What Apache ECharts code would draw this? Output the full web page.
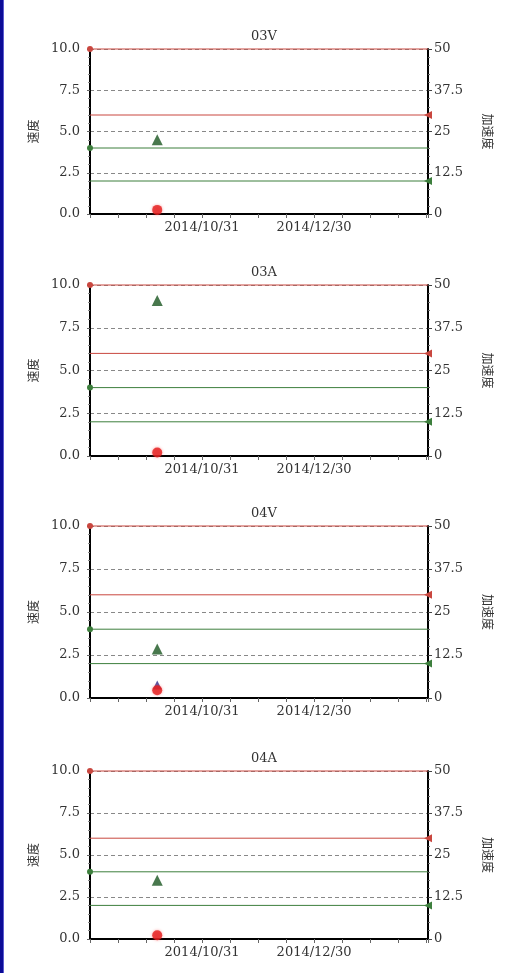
<!DOCTYPE html>
<html>
<head>
<meta charset="utf-8">
<script src="https://cdn.jsdelivr.net/npm/echarts@6/dist/echarts.min.js"></script>
<style>
html,body{margin:0;padding:0;background:#fff;}
#c{width:509px;height:973px;}
</style>
</head>
<body>
<div id="c"></div>
<script>
// ---- data ----
const panelTitles = ['03V', '03A', '04V', '04A'];
const axisStart = '2014-09-01';
const axisEnd = '2015-02-28';
const xTickDays = 15;
const xLabels = ['2014/10/31', '2014/12/30'];
const sampleDate = '2014-10-07';
const velocity = [0.25, 0.2, 0.45, 0.22];          // 速度 (left axis), red circle
const velocityB = [null, null, 0.75, null];         // second point (left axis), blue triangle
const acceleration = [22.5, 45.5, 14.25, 17.5];     // 加速度 (right axis), green triangle
const velAlarm = 10, velWarn = 4;                   // left-axis thresholds
const accAlarm = 30, accWarn = 10;                  // right-axis thresholds
const leftTicks = [0, 10, 2.5];   // min, max, interval
const rightTicks = [0, 50, 12.5]; // min, max, interval

// ---- helpers ----
const DAY = 86400000;
const t0 = Date.parse(axisStart + 'T00:00:00Z');
const toDay = d => (Date.parse(d + 'T00:00:00Z') - t0) / DAY;
const xMax = toDay(axisEnd) + 1;
const pad = n => (n < 10 ? '0' : '') + n;
const fmtDay = v => { const d = new Date(t0 + v * DAY); return d.getUTCFullYear() + '/' + pad(d.getUTCMonth() + 1) + '/' + pad(d.getUTCDate()); };

const layout = [
  {top: 49, height: 165},
  {top: 285, height: 171},
  {top: 526, height: 172},
  {top: 771, height: 168}
];
const LEFT = 90, RIGHT = 81;
const FONT = 'DejaVu Serif';
const CJK = 'Noto Sans CJK SC';
const RED = '#c9473f', GREEN = '#3d7f3d';

const grid = [], xAxis = [], yAxis = [], series = [], title = [];
panelTitles.forEach((name, i) => {
  const L = layout[i];
  grid.push({left: LEFT, right: RIGHT, top: L.top, height: L.height});
  title.push({text: name, left: LEFT + (509 - LEFT - RIGHT) / 2, textAlign: 'center', top: L.top - 24,
    textStyle: {fontFamily: FONT, fontSize: 13, fontWeight: 'normal', color: '#333'}});
  xAxis.push({type: 'value', gridIndex: i, min: 0, max: xMax, interval: xTickDays,
    axisLine: {show: true, onZero: false, lineStyle: {color: '#000', width: 2}},
    axisTick: {show: true, length: 4, lineStyle: {color: '#666'}},
    splitLine: {show: false},
    axisLabel: {margin: 7, fontFamily: FONT, fontSize: 13, color: '#333',
      formatter: v => { const s = fmtDay(v); return xLabels.includes(s) ? s : ''; }}});
  yAxis.push({type: 'value', gridIndex: i, position: 'left', min: leftTicks[0], max: leftTicks[1], interval: leftTicks[2],
    name: '速度', nameLocation: 'middle', nameGap: 51, nameRotate: 90,
    nameTextStyle: {fontFamily: CJK, fontSize: 12, color: '#333'},
    axisLine: {show: true, lineStyle: {color: '#000', width: 2}},
    axisTick: {show: true, length: 3, lineStyle: {color: '#666'}},
    minorTick: {show: true, splitNumber: 5, length: 2, lineStyle: {color: '#888'}},
    splitLine: {show: true, lineStyle: {color: '#888', type: [4, 3], width: 1}},
    axisLabel: {margin: 10, fontFamily: FONT, fontSize: 13, color: '#333', formatter: v => v.toFixed(1)}});
  yAxis.push({type: 'value', gridIndex: i, position: 'right', min: rightTicks[0], max: rightTicks[1], interval: rightTicks[2],
    name: '加速度', nameLocation: 'middle', nameGap: 54, nameRotate: -90,
    nameTextStyle: {fontFamily: CJK, fontSize: 12, color: '#333'},
    axisLine: {show: true, lineStyle: {color: '#000', width: 2}},
    axisTick: {show: true, length: 4, lineStyle: {color: '#444'}},
    minorTick: {show: true, splitNumber: 5, length: 2, lineStyle: {color: '#666'}},
    splitLine: {show: false},
    axisLabel: {margin: 6, fontFamily: FONT, fontSize: 13, color: '#333'}});

  const yl = 2 * i, yr = 2 * i + 1;
  const thr = (val, yIdx, color, atLeft) => ({
    type: 'line', xAxisIndex: i, yAxisIndex: yIdx, silent: true, clip: false, z: 3,
    lineStyle: {color: color, width: 1}, itemStyle: {color: color},
    symbol: atLeft ? 'circle' : 'triangle', symbolRotate: atLeft ? 0 : 90,
    data: [
      {value: [0, val], symbolSize: atLeft ? 6 : 0},
      {value: [xMax, val], symbolSize: atLeft ? 0 : 8}
    ]
  });
  series.push(thr(velAlarm, yl, RED, true));
  series.push(thr(velWarn, yl, GREEN, true));
  series.push(thr(accAlarm, yr, RED, false));
  series.push(thr(accWarn, yr, GREEN, false));
  series.push({type: 'scatter', xAxisIndex: i, yAxisIndex: yr, symbol: 'triangle', symbolSize: 11, z: 5,
    itemStyle: {color: '#1a5620'}, data: [[toDay(sampleDate), acceleration[i]]]});
  if (velocityB[i] != null) {
    series.push({type: 'scatter', xAxisIndex: i, yAxisIndex: yl, symbol: 'triangle', symbolSize: 9, z: 5,
      itemStyle: {color: '#2c2a8a'}, data: [[toDay(sampleDate), velocityB[i]]]});
  }
  series.push({type: 'scatter', xAxisIndex: i, yAxisIndex: yl, symbol: 'circle', symbolSize: 10, z: 6, clip: false,
    itemStyle: {color: '#e41d1d', shadowBlur: 3, shadowColor: 'rgba(255,60,60,0.6)'},
    data: [[toDay(sampleDate), velocity[i]]]});
});

const chart = echarts.init(document.getElementById('c'), null, {renderer: 'canvas'});
chart.setOption({
  animation: false,
  backgroundColor: '#fff',
  title, grid, xAxis, yAxis, series,
  graphic: [
    {type: 'rect', left: 0, top: 0, shape: {width: 3, height: 973}, style: {fill: '#0b0b96'}, z: 100},
    {type: 'rect', left: 3, top: 0, shape: {width: 1, height: 973}, style: {fill: '#5b5bd0'}, z: 100}
  ]
});
</script>
</body>
</html>
